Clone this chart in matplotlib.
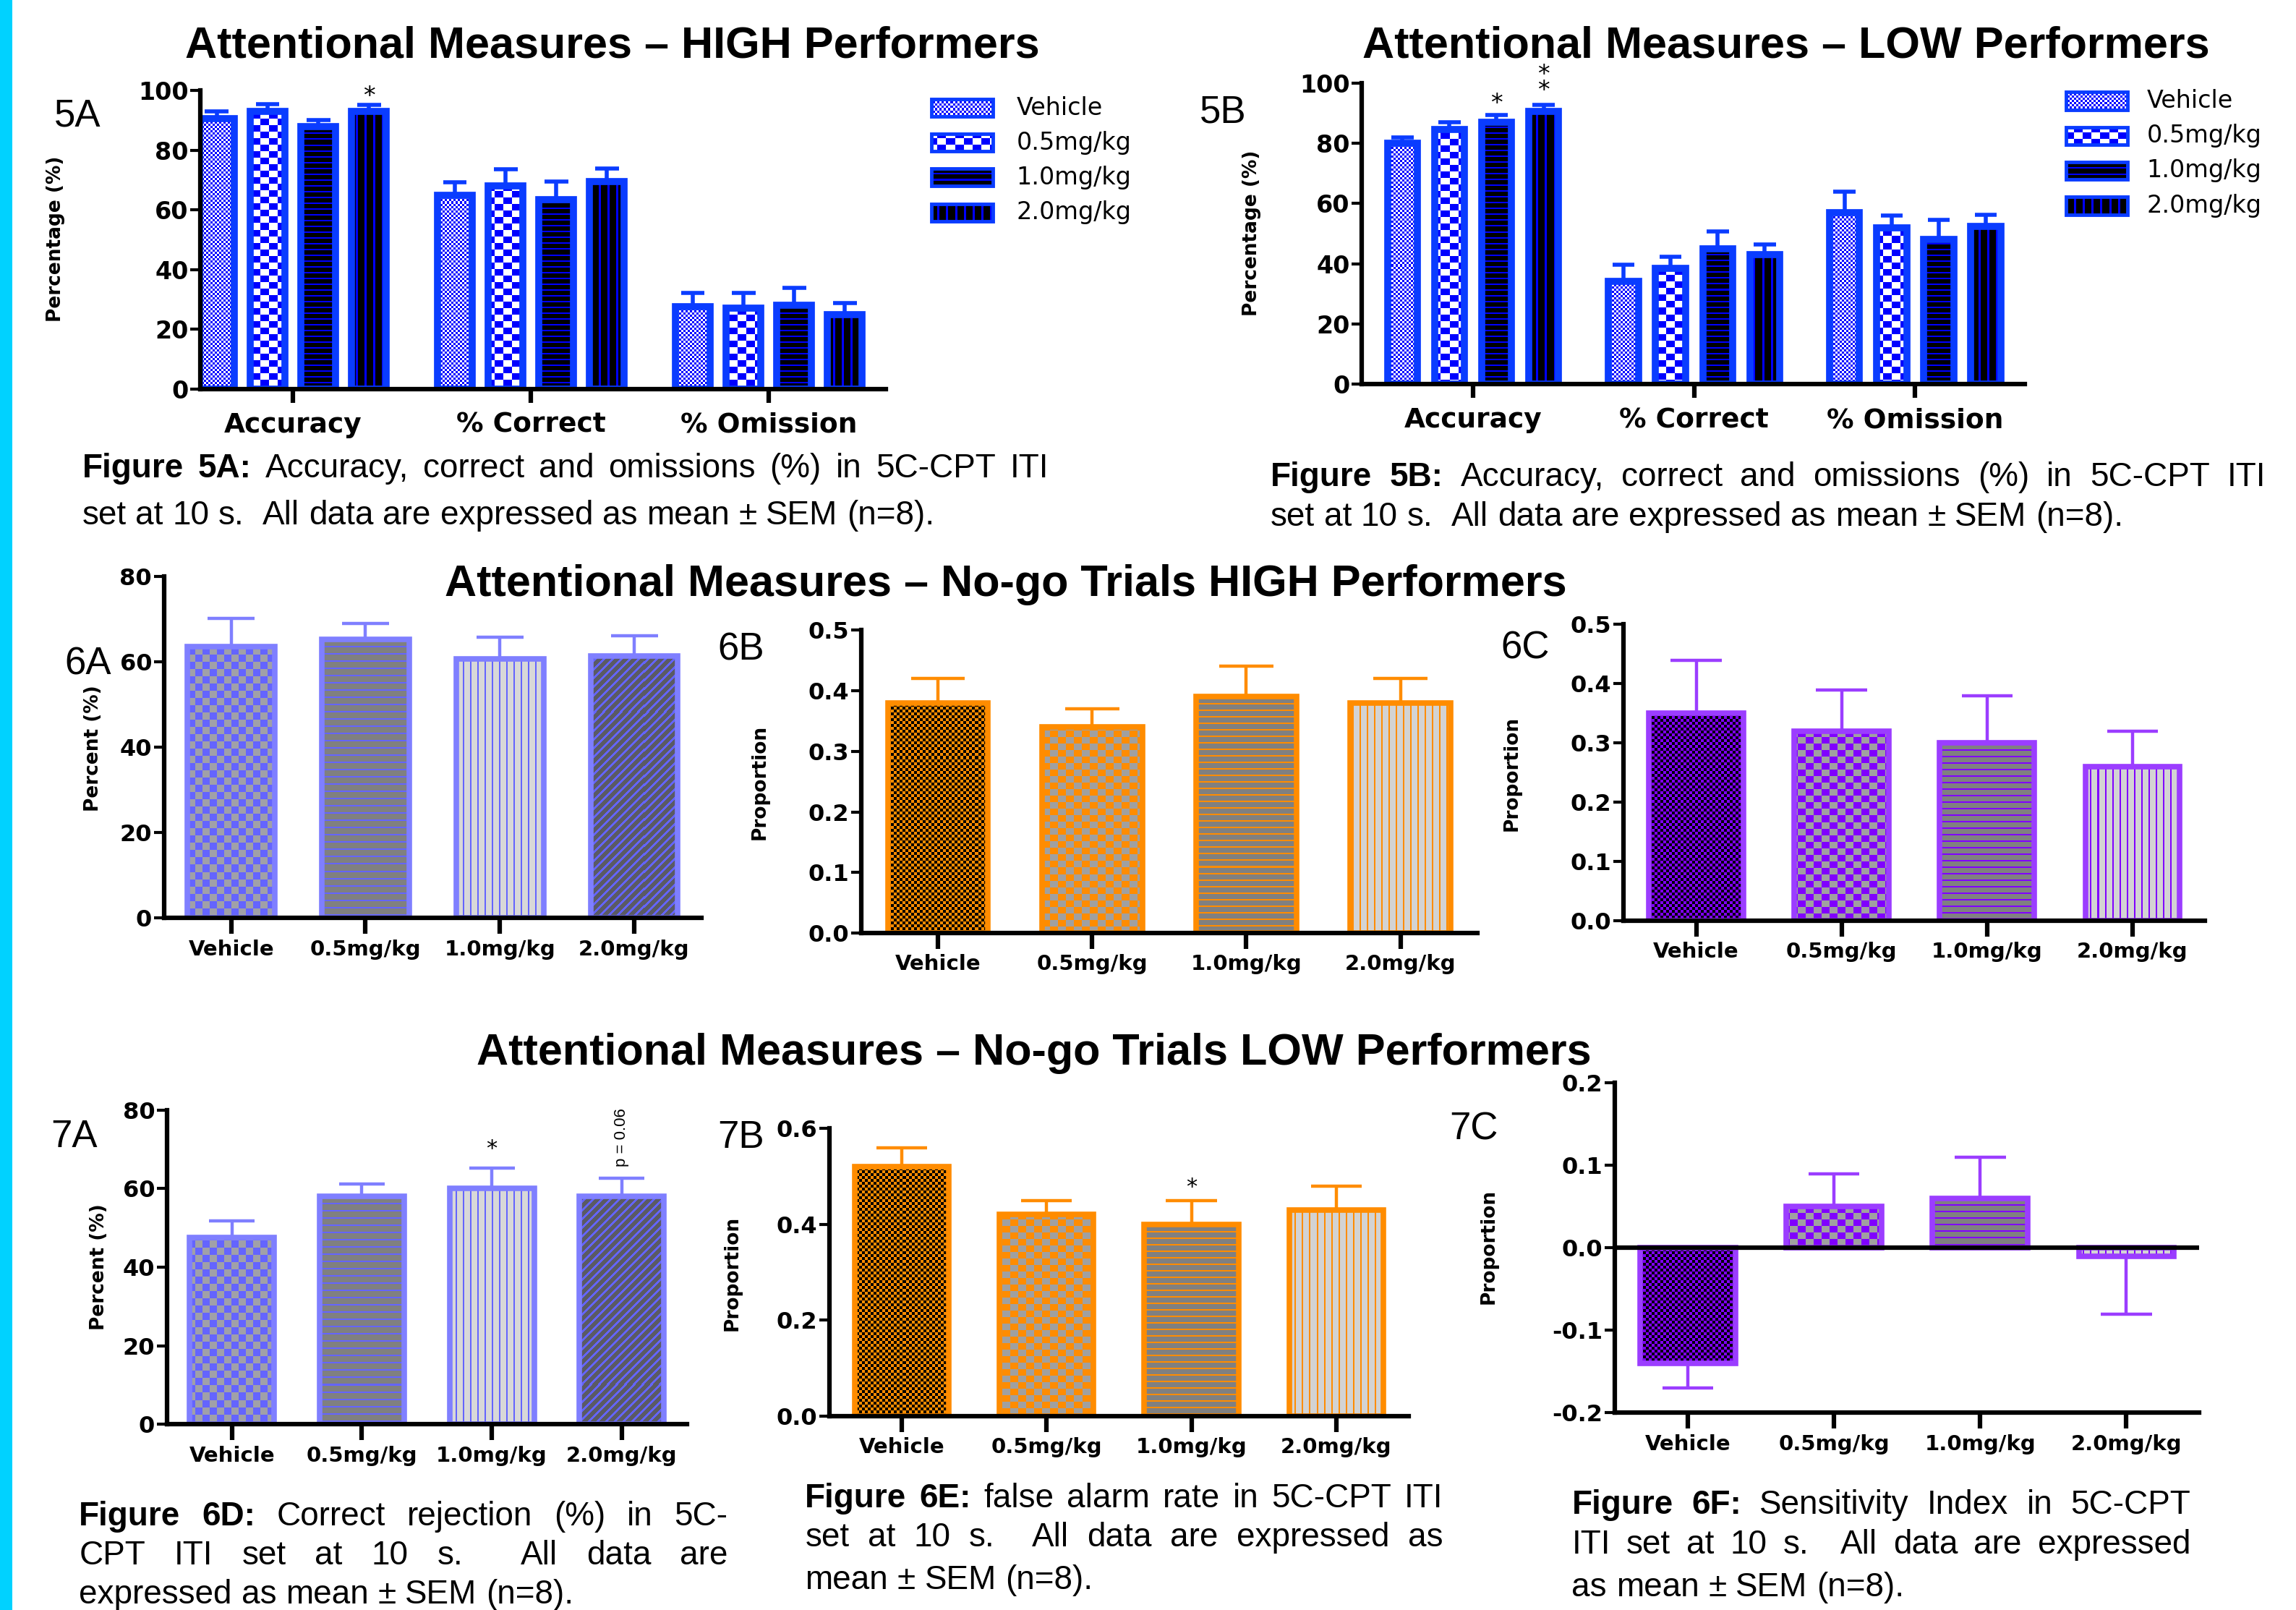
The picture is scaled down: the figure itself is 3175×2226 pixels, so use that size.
import numpy as np
import matplotlib
matplotlib.use('Agg')
import matplotlib.pyplot as plt
from matplotlib.colors import to_rgb
from matplotlib.patches import Rectangle

plt.rcParams['font.family'] = 'DejaVu Sans'

doses = ['Vehicle', '0.5mg/kg', '1.0mg/kg', '2.0mg/kg']
measures = ['Accuracy', '% Correct', '% Omission']

# attentional measures (rows = dose, columns = measure), mean and SEM
high_mean = [[90.5, 65.0, 27.5], [93.0, 68.0, 27.0], [88.0, 63.5, 28.0], [93.0, 69.5, 25.0]]
high_sem = [[2.5, 4.3, 4.8], [2.3, 5.5, 5.3], [2.0, 6.1, 5.8], [2.2, 4.3, 3.8]]
low_mean = [[80.0, 34.0, 57.0], [84.5, 38.5, 52.0], [87.0, 45.0, 48.0], [90.5, 43.0, 52.3]]
low_sem = [[2.0, 5.6, 7.0], [2.5, 3.8, 4.0], [2.3, 5.7, 6.6], [2.3, 3.4, 3.9]]

# no-go trials: correct rejection, false alarm rate, sensitivity index
cr_high = [63.5, 65.2, 60.7, 61.4]
cr_high_sem = [6.7, 3.8, 5.1, 4.6]
fa_high = [0.38, 0.34, 0.39, 0.38]
fa_high_sem = [0.04, 0.03, 0.05, 0.04]
si_high = [0.35, 0.32, 0.30, 0.26]
si_high_sem = [0.09, 0.07, 0.08, 0.06]
cr_low = [47.5, 58.0, 60.0, 58.0]
cr_low_sem = [4.2, 3.1, 5.2, 4.6]
fa_low = [0.52, 0.42, 0.40, 0.43]
fa_low_sem = [0.04, 0.03, 0.05, 0.05]
si_low = [-0.14, 0.05, 0.06, -0.01]
si_low_sem = [0.03, 0.04, 0.05, 0.07]

# colours and fill patterns: (kind, base colour, ink colour, size a, size b)
BLUE_EDGE, BLUE = '#0A3CFF', '#0000FF'
PERI_EDGE, PERI = '#7F7FFF', '#6464FF'
ORANGE = '#FF8C00'
PURPLE_EDGE, PURPLE = '#9B3DFF', '#8000FF'
blue_fills = [('checker', 'white', BLUE, 3, 3), ('checker', 'white', BLUE, 12, 9),
              ('hlines', 'black', BLUE, 8, 2), ('vlines', 'black', BLUE, 12, 3)]
peri_fills = [('checker', '#A0A0A8', PERI, 10, 10), ('hlines', '#808080', PERI, 10, 2),
              ('vlines', '#D8D8D8', PERI, 10, 2), ('diag', '#5A5A64', PERI, 12, 4)]
orange_fills = [('checker', 'black', ORANGE, 4, 4), ('checker', '#A0A0A0', ORANGE, 11, 9),
                ('hlines', '#808080', ORANGE, 9, 2), ('vlines', '#D3D3D3', ORANGE, 10, 2)]
purple_fills = [('checker', 'black', PURPLE, 4, 4), ('checker', '#A0A0A0', PURPLE, 11, 9),
                ('hlines', '#808080', PURPLE, 9, 2), ('vlines', '#D3D3D3', PURPLE, 10, 2)]

W, H = 1568.0, 1099.0          # layout grid units
fig = plt.figure(figsize=(31.75, 22.26), dpi=100)
PX = 3175 / W                  # pixels per layout unit
renderer = fig.canvas.get_renderer()

# overlay axes in layout units, y pointing down
ov = fig.add_axes([0, 0, 1, 1])
ov.set_xlim(0, W)
ov.set_ylim(H, 0)
ov.set_axis_off()
ov.add_patch(Rectangle((0, 0), 8.5, H, color='#00D2FF', lw=0))


def paint(ax, patch, spec):
    """Fill a patch with a pixel pattern, clipped to the patch outline."""
    kind, base, ink, a, b = spec
    bb = patch.get_window_extent()
    x0, x1 = int(np.floor(bb.x0)), int(np.ceil(bb.x1))
    y0, y1 = int(np.floor(bb.y0)), int(np.ceil(bb.y1))
    if x1 <= x0 or y1 <= y0:
        return
    X, Y = np.meshgrid(np.arange(x0, x1), np.arange(y1 - 1, y0 - 1, -1))
    if kind == 'checker':
        mask = ((X // a) + (Y // b)) % 2 == 0
    elif kind == 'hlines':
        mask = (Y % a) < b
    elif kind == 'vlines':
        mask = (X % a) < b
    else:
        mask = ((X - Y) % a) < b
    img = np.where(mask[..., None], np.array(to_rgb(ink)), np.array(to_rgb(base)))
    inv = ax.transData.inverted()
    (dx0, dy0), (dx1, dy1) = inv.transform([(x0, y0), (x1, y1)])
    im = ax.imshow(img, extent=(dx0, dx1, dy0, dy1), origin='upper',
                   interpolation='nearest', aspect='auto', zorder=patch.get_zorder() - 0.1)
    im.set_clip_path(patch)


def make_axes(box, xlim, ylim, yticks, ylabels, tick_fs, xtick_len=16, xtick_pad=5):
    x0, y0, x1, y1 = box
    ax = fig.add_axes([x0 / W, 1 - y1 / H, (x1 - x0) / W, (y1 - y0) / H])
    ax.set_xlim(*xlim)
    ax.set_ylim(*ylim)
    ax.patch.set_visible(False)
    for s in ['top', 'right']:
        ax.spines[s].set_visible(False)
    for s in ['left', 'bottom']:
        ax.spines[s].set_linewidth(4.5)
        ax.spines[s].set_zorder(5)
    ax.set_yticks(yticks, labels=ylabels)
    ax.tick_params(axis='y', length=10, width=3, labelsize=tick_fs, pad=2)
    ax.tick_params(axis='x', length=xtick_len, width=4.5, pad=xtick_pad)
    for lab in ax.get_yticklabels():
        lab.set_fontweight('bold')
    return ax


def draw_bars(ax, x, vals, sems, width, edge, lw, specs, cap_half, err_lw):
    bars = ax.bar(x, vals, width, facecolor='none', edgecolor=edge, linewidth=lw, zorder=3)
    for bar, spec in zip(bars, specs):
        paint(ax, bar, spec)
    for xi, v, s in zip(x, vals, sems):
        end = v + s if v >= 0 else v - s
        ax.vlines(xi, v, end, color=edge, lw=err_lw, zorder=2)
        ax.hlines(end, xi - cap_half, xi + cap_half, color=edge, lw=err_lw, zorder=2)


def set_xlabels(ax, pos, labels, fs):
    ax.set_xticks(pos, labels=labels)
    for lab in ax.get_xticklabels():
        lab.set_fontsize(fs)
        lab.set_fontweight('bold')


def caption(lines, x0, x1, baselines, fs=33):
    for k, (line, yb) in enumerate(zip(lines, baselines)):
        words = line.split(' ')
        arts = []
        for j, w in enumerate(words):
            weight = 'bold' if (k == 0 and j < 2) else 'normal'
            arts.append(ov.text(0, yb, w, fontsize=fs, family='Liberation Sans',
                                fontweight=weight, va='baseline', ha='left'))
        widths = [a.get_window_extent(renderer).width / PX if a.get_text() else 0.0 for a in arts]
        if k < len(lines) - 1:
            gap = (x1 - x0 - sum(widths)) / (len(arts) - 1)
        else:
            gap = fs / 72 * 100 * 0.278 / PX
        xc = x0
        for a, w in zip(arts, widths):
            a.set_x(xc)
            xc += w + gap


def legend(x_sw, x_txt, ys, specs, edge):
    for y, spec, lab in zip(ys, specs, doses):
        r = Rectangle((x_sw, y - 6), 42, 12, facecolor='none', edgecolor=edge, lw=3.5, zorder=3)
        ov.add_patch(r)
        paint(ov, r, spec)
        ov.text(x_txt, y, lab, fontsize=24, va='center', ha='left')


def label(x, y, text, fs, **kw):
    ov.text(x, y, text, fontsize=fs, ha='center', va='center', **kw)


# ---- Figure 5A / 5B: grouped bars ----
offsets = (np.arange(4) - 1.5) * 0.213
groups = np.arange(3)
pct_ticks = [0, 20, 40, 60, 80, 100]

ax5a = make_axes((137, 61.7, 605, 265.6), (-0.388, 2.492), (0, 100),
                 pct_ticks, [str(t) for t in pct_ticks], 24, xtick_len=14, xtick_pad=9)
for i in range(4):
    draw_bars(ax5a, groups + offsets[i], high_mean[i], high_sem[i], 0.145, BLUE_EDGE, 7,
              [blue_fills[i]] * 3, 0.05, 4)
set_xlabels(ax5a, groups, measures, 27)
ax5a.text(offsets[3], 98, '*', fontsize=24, ha='center', va='center')

ax5b = make_axes((930, 56.6, 1383, 262.2), (-0.503, 2.497), (0, 100),
                 pct_ticks, [str(t) for t in pct_ticks], 24, xtick_len=14, xtick_pad=9)
for i in range(4):
    draw_bars(ax5b, groups + offsets[i], low_mean[i], low_sem[i], 0.135, BLUE_EDGE, 7,
              [blue_fills[i]] * 3, 0.05, 4)
set_xlabels(ax5b, groups, measures, 27)
ax5b.text(offsets[2], 93, '*', fontsize=24, ha='center', va='center')
ax5b.text(offsets[3], 100, '*\n*', fontsize=24, ha='center', va='center', linespacing=0.6)

legend(636, 694, [73.6, 97.4, 121, 145], blue_fills, BLUE_EDGE)
legend(1411, 1466, [68.8, 92.7, 116.5, 140.5], blue_fills, BLUE_EDGE)

# ---- No-go panels ----
xpos = np.arange(4)
p80 = [0, 20, 40, 60, 80]
prop5 = [0, 0.1, 0.2, 0.3, 0.4, 0.5]
prop6 = [0, 0.2, 0.4, 0.6]
prop_si = [-0.2, -0.1, 0, 0.1, 0.2]

nogo = [
    ((112, 393.3, 479, 626.7), (0, 80), p80, [str(t) for t in p80], cr_high, cr_high_sem, PERI_EDGE, peri_fills),
    ((588, 430, 1009, 637), (0, 0.5), prop5, ['%.1f' % t for t in prop5], fa_high, fa_high_sem, ORANGE, orange_fills),
    ((1108.7, 426.3, 1506, 628.5), (0, 0.5), prop5, ['%.1f' % t for t in prop5], si_high, si_high_sem, PURPLE_EDGE, purple_fills),
    ((114, 757.6, 469, 972.3), (0, 80), p80, [str(t) for t in p80], cr_low, cr_low_sem, PERI_EDGE, peri_fills),
    ((566.4, 770.3, 962, 966.5), (0, 0.6), prop6, ['%.1f' % t for t in prop6], fa_low, fa_low_sem, ORANGE, orange_fills),
    ((1102.7, 739.3, 1502, 964.4), (-0.2, 0.2), prop_si, ['%.1f' % t for t in prop_si], si_low, si_low_sem, PURPLE_EDGE, purple_fills),
]
nogo_axes = []
for box, ylim, yt, ylab, vals, sems, edge, specs in nogo:
    ax = make_axes(box, (-0.5, 3.5), ylim, yt, ylab, 23)
    draw_bars(ax, xpos, vals, sems, 0.65, edge, 5.5, specs, 0.175, 3.2)
    set_xlabels(ax, xpos, doses, 21)
    nogo_axes.append(ax)

ax7c = nogo_axes[5]
ax7c.axhline(0, color='black', lw=4.5, zorder=5)

ax7a = nogo_axes[3]
ax7a.text(2, 70, '*', fontsize=22, ha='center', va='center')
ax7a.text(3, 73, 'p = 0.06', fontsize=16, family='Liberation Sans', rotation=90,
          ha='center', va='center')
nogo_axes[4].text(2, 0.478, '*', fontsize=22, ha='center', va='center')

# ---- titles, panel letters, axis titles ----
label(418, 31.5, 'Attentional Measures \u2013 HIGH Performers', 44, family='Liberation Sans', fontweight='bold')
label(1219.5, 31.5, 'Attentional Measures \u2013 LOW Performers', 44, family='Liberation Sans', fontweight='bold')
label(687, 399, 'Attentional Measures \u2013 No-go Trials HIGH Performers', 44, family='Liberation Sans', fontweight='bold')
label(706, 719, 'Attentional Measures \u2013 No-go Trials LOW Performers', 44, family='Liberation Sans', fontweight='bold')

for x, y, t in [(53, 79, '5A'), (835, 77, '5B'), (60, 453.6, '6A'), (506, 443.5, '6B'),
                (1041.5, 442.5, '6C'), (50.5, 776, '7A'), (506, 776.8, '7B'), (1006.6, 771, '7C')]:
    label(x, y, t, 38, family='Liberation Sans')

for x, y, t in [(38, 163, 'Percentage (%)'), (855, 159, 'Percentage (%)'),
                (63.5, 511, 'Percent (%)'), (519, 533.7, 'Proportion'), (1032.6, 528, 'Proportion'),
                (67.5, 864.7, 'Percent (%)'), (500, 869, 'Proportion'), (1016.6, 851, 'Proportion')]:
    label(x, y, t, 19, fontweight='bold', rotation=90)

# ---- figure captions ----
caption(['Figure 5A: Accuracy, correct and omissions (%) in 5C-CPT ITI',
         'set at 10 s.  All data are expressed as mean \u00b1 SEM (n=8).'], 56, 716, [325.8, 357.8])
caption(['Figure 5B: Accuracy, correct and omissions (%) in 5C-CPT ITI',
         'set at 10 s.  All data are expressed as mean \u00b1 SEM (n=8).'], 867.7, 1547.5, [332, 359])
caption(['Figure 6D: Correct rejection (%) in 5C-',
         'CPT ITI set at 10 s.  All data are',
         'expressed as mean \u00b1 SEM (n=8).'], 54, 497, [1041, 1068, 1094.7])
caption(['Figure 6E: false alarm rate in 5C-CPT ITI',
         'set at 10 s.  All data are expressed as',
         'mean \u00b1 SEM (n=8).'], 549.8, 985.3, [1029, 1055.4, 1084.6])
caption(['Figure 6F: Sensitivity Index in 5C-CPT',
         'ITI set at 10 s.  All data are expressed',
         'as mean \u00b1 SEM (n=8).'], 1073.4, 1496, [1033.4, 1060.5, 1089.7])

fig.savefig('out.png', dpi=100)
